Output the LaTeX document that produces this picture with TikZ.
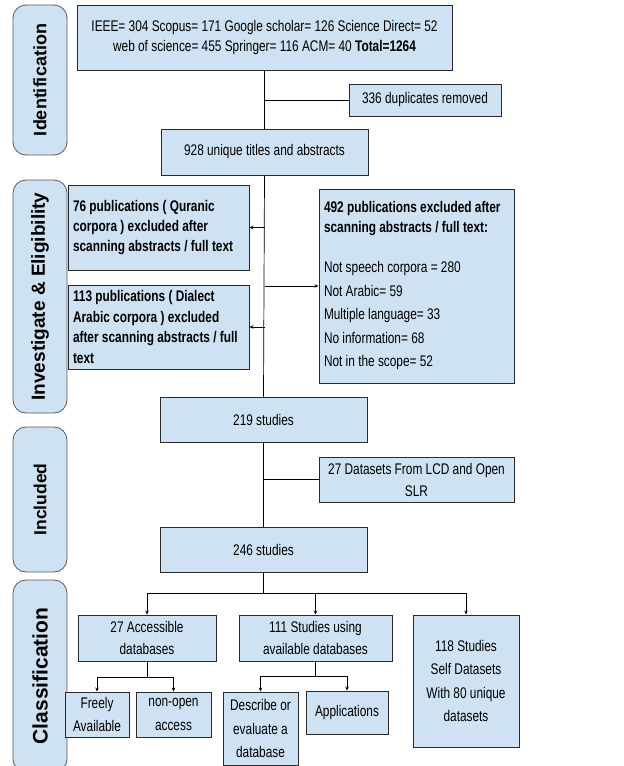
\documentclass[tikz,border=0pt]{standalone}
\usepackage{fontspec}
\setmainfont{Liberation Sans}[FakeStretch=0.77]
\newfontfamily\labfont{Liberation Sans}
\usetikzlibrary{arrows.meta}
\definecolor{boxblue}{HTML}{CFE2F3}
\definecolor{edgecol}{HTML}{2B2B2B}
\begin{document}
\begin{tikzpicture}[x=1pt,y=-1pt,
  box/.style={draw=edgecol, fill=boxblue, line width=0.9pt, inner sep=0pt, align=center,
              font=\fontsize{15.4}{20}\selectfont},
  phase/.style={draw=black!65, fill=boxblue, line width=0.8pt, rounded corners=13pt,
                inner sep=0pt, minimum height=54pt, rotate=90},
  ln/.style={line width=0.7pt, draw=black},
  arr/.style={ln, -{Stealth[length=4pt,width=3.5pt]}}]
\useasboundingbox (0,0) rectangle (624,766);
\fill[white] (0,0) rectangle (624,766);

% phase labels
\node[phase, minimum width=150pt] (ph1) at (40,80)
  {\labfont\bfseries\fontsize{18}{18}\selectfont Identification};
\node[phase, minimum width=233pt] (ph2) at (40,296.5)
  {\labfont\bfseries\fontsize{19}{19}\selectfont Investigate \& Eligibility};
\node[phase, minimum width=145pt] (ph3) at (40,499.5)
  {\labfont\bfseries\fontsize{17.5}{17.5}\selectfont Included};
\node[phase, minimum width=192pt] (ph4) at (40,676)
  {\labfont\bfseries\fontsize{21}{21}\selectfont Classification};

% main boxes
\node[box, minimum width=375pt, minimum height=65pt] (top) at (264.5,37.5)
  {IEEE= 304 Scopus= 171 Google scholar= 126 Science Direct= 52\\
   web of science= 455 Springer= 116 ACM= 40 \textbf{Total=1264}};
\node[box, minimum width=152pt, minimum height=32pt] (dup) at (425,100)
  {336 duplicates removed};
\node[box, minimum width=207pt, minimum height=46pt] (u928) at (264.5,152)
  {928 unique titles and abstracts};
\node[box, minimum width=181pt, minimum height=85pt, text width=171pt, align=flush left,
      font=\fontsize{15.4}{20}\selectfont\bfseries] (q76) at (158.5,227.5)
  {76 publications ( Quranic\\corpora ) excluded after\\scanning abstracts / full text};
\node[box, minimum width=181pt, minimum height=84pt, text width=171pt, align=flush left,
      font=\fontsize{15.4}{20.5}\selectfont\bfseries] (d113) at (158.5,327)
  {113 publications ( Dialect\\Arabic corpora ) excluded\\after scanning abstracts / full\\text};
\node[box, minimum width=195pt, minimum height=194pt, text width=185pt, align=flush left,
      font=\fontsize{15.4}{23.5}\selectfont] (ex492) at (416.5,286)
  {\textbf{492 publications excluded after}\\[-3.5pt]
   \textbf{scanning abstracts / full text:}\\[16.5pt]
   Not speech corpora = 280\\
   Not Arabic= 59\\
   Multiple language= 33\\
   No information= 68\\
   Not in the scope= 52};
\node[box, minimum width=207pt, minimum height=45pt] (s219) at (263.5,419.5)
  {219 studies};
\node[box, minimum width=195pt, minimum height=45pt, font=\fontsize{15.4}{22}\selectfont] (lcd) at (416.5,479.5)
  {27 Datasets From LCD and Open\\SLR};
\node[box, minimum width=207pt, minimum height=45pt] (s246) at (263.5,549.5)
  {246 studies};
\node[box, minimum width=138pt, minimum height=46pt, font=\fontsize{15.4}{21.5}\selectfont] (acc) at (147,638)
  {27 Accessible\\databases};
\node[box, minimum width=153pt, minimum height=46pt, font=\fontsize{15.4}{21.5}\selectfont] (stu) at (315.5,638)
  {111 Studies using\\available databases};
\node[box, minimum width=106pt, minimum height=132pt, font=\fontsize{15.4}{23.3}\selectfont] (self) at (466,681)
  {118 Studies\\Self Datasets\\With 80 unique\\datasets};
\node[box, minimum width=64pt, minimum height=45pt, font=\fontsize{15.4}{23.5}\selectfont] (free) at (97,714.5)
  {Freely\\Available};
\node[box, minimum width=75pt, minimum height=45pt, font=\fontsize{15.4}{23.5}\selectfont] (nonopen) at (173.5,714.5)
  {non-open\\access};
\node[box, minimum width=75pt, minimum height=73pt, font=\fontsize{15.4}{23.5}\selectfont] (desc) at (260.5,728.5)
  {Describe or\\evaluate a\\database};
\node[box, minimum width=82pt, minimum height=43pt] (apps) at (347,712.5)
  {Applications};

% connectors
\draw[ln] (top.south) -- (u928.north);
\draw[ln] (top.south |- dup.west) -- (dup.west);
\draw[ln] (u928.south) -- (s219.north);
\draw[arr] (u928.south |- q76.east) -- (q76.east);
\draw[arr] (u928.south |- d113.east) -- (d113.east);
\draw[arr] (u928.south |- ex492.west) -- (ex492.west);
\draw[ln] (s219.south) -- (s246.north);
\draw[ln] (s219.south |- lcd.west) -- (lcd.west);

\coordinate (br) at (263.5,593);
\draw[ln] (s246.south) -- (br);
\draw[ln] (acc.north |- br) -- (self.north |- br);
\draw[arr] (acc.north |- br) -- (acc.north);
\draw[arr] (stu.north |- br) -- (stu.north);
\draw[arr] (self.north |- br) -- (self.north);

\coordinate (bra) at (147,677);
\draw[ln] (acc.south) -- (bra);
\draw[ln] (free.north |- bra) -- (nonopen.north |- bra);
\draw[arr] (free.north |- bra) -- (free.north);
\draw[arr] (nonopen.north |- bra) -- (nonopen.north);

\coordinate (brb) at (315.5,676);
\draw[ln] (stu.south) -- (brb);
\draw[ln] (desc.north |- brb) -- (apps.north |- brb);
\draw[arr] (desc.north |- brb) -- (desc.north);
\draw[arr] (apps.north |- brb) -- (apps.north);
\end{tikzpicture}
\end{document}
